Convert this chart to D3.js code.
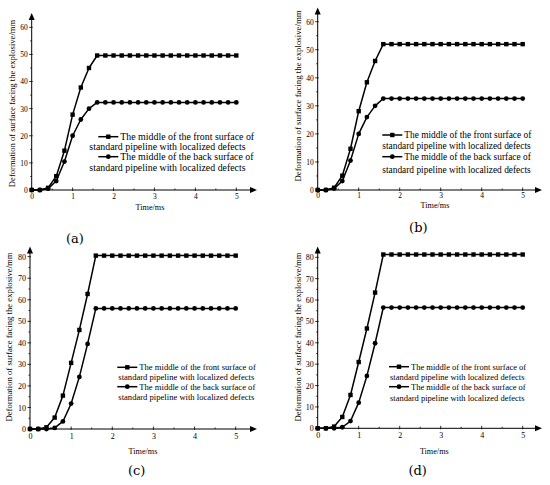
<!DOCTYPE html>
<html>
<head>
  <meta charset="utf-8">
  <script src="https://d3js.org/d3.v7.min.js"></script>
  <style>
    body { margin: 0; background: #fff; }
    text { fill: #000; }
  </style>
</head>
<body>
<script>
  // time points (ms)
  var time = [0, 0.2, 0.4, 0.6, 0.8, 1.0, 1.2, 1.4, 1.6, 1.8, 2.0, 2.2, 2.4,
              2.6, 2.8, 3.0, 3.2, 3.4, 3.6, 3.8, 4.0, 4.2, 4.4, 4.6, 4.8, 5.0];

  // deformation (mm)
  var frontA = [0, 0, 0.8, 5.1, 14.5, 27.8, 37.8, 45.0, 49.6, 49.6, 49.6, 49.6, 49.6,
                49.6, 49.6, 49.6, 49.6, 49.6, 49.6, 49.6, 49.6, 49.6, 49.6, 49.6, 49.6, 49.6];
  var backA  = [0, 0, 0.5, 3.3, 10.5, 20.0, 26.0, 30.0, 32.3, 32.3, 32.3, 32.3, 32.3,
                32.3, 32.3, 32.3, 32.3, 32.3, 32.3, 32.3, 32.3, 32.3, 32.3, 32.3, 32.3, 32.3];
  var frontB = [0, 0, 0.8, 5.1, 14.7, 28.1, 38.4, 46.0, 52.0, 52.0, 52.0, 52.0, 52.0,
                52.0, 52.0, 52.0, 52.0, 52.0, 52.0, 52.0, 52.0, 52.0, 52.0, 52.0, 52.0, 52.0];
  var backB  = [0, 0, 0.5, 3.2, 10.5, 20.0, 26.0, 30.0, 32.6, 32.6, 32.6, 32.6, 32.6,
                32.6, 32.6, 32.6, 32.6, 32.6, 32.6, 32.6, 32.6, 32.6, 32.6, 32.6, 32.6, 32.6];
  var frontC = [0, 0, 0.8, 5.3, 15.5, 30.7, 46.0, 62.7, 80.5, 80.5, 80.5, 80.5, 80.5,
                80.5, 80.5, 80.5, 80.5, 80.5, 80.5, 80.5, 80.5, 80.5, 80.5, 80.5, 80.5, 80.5];
  var backC  = [0, 0, 0, 0.5, 3.5, 11.8, 24.2, 39.5, 56.0, 56.0, 56.0, 56.0, 56.0,
                56.0, 56.0, 56.0, 56.0, 56.0, 56.0, 56.0, 56.0, 56.0, 56.0, 56.0, 56.0, 56.0];
  var frontD = [0, 0, 0.8, 5.3, 15.6, 31.0, 46.7, 63.5, 81.3, 81.3, 81.3, 81.3, 81.3,
                81.3, 81.3, 81.3, 81.3, 81.3, 81.3, 81.3, 81.3, 81.3, 81.3, 81.3, 81.3, 81.3];
  var backD  = [0, 0, 0, 0.5, 3.4, 12.0, 24.5, 39.8, 56.5, 56.5, 56.5, 56.5, 56.5,
                56.5, 56.5, 56.5, 56.5, 56.5, 56.5, 56.5, 56.5, 56.5, 56.5, 56.5, 56.5, 56.5];

  // tick labels
  var xTicks = [0, 1, 2, 3, 4, 5];
  var yTicks60 = [0, 10, 20, 30, 40, 50, 60];
  var yTicks80 = [0, 10, 20, 30, 40, 50, 60, 70, 80];

  var legendText = [
    ["The middle of the front surface of", "standard pipeline with localized defects"],
    ["The middle of the back surface of", "standard pipeline with localized defects"]
  ];
  var yTitle = "Deformation of surface facing the explosive/mm";
  var xTitle = "Time/ms";

  // one entry per sub-figure; the numbers after the data are layout only
  var panels = [
    { tag: "(a)", front: frontA, back: backA, yTicks: yTicks60, yRef: 60,
      px0: 31.7, px5: 236.3, pxEnd: 257, py0: 190, pyRef: 27.3, pyTip: 13,
      tickFs: 7.5, tickPad: 4, yTitleX: 12, yTitleY: 103.5, titleFs: 8.6, xTitleX: 150, xTitleY: 210,
      tagX: 75, tagY: 243,
      legX: 98.3, legY: [136.7, 146.7, 156.7, 168], leg2X: 89.3, legFs: 9.9 },
    { tag: "(b)", front: frontB, back: backB, yTicks: yTicks60, yRef: 60,
      px0: 317.7, px5: 522.7, pxEnd: 542, py0: 190, pyRef: 21.7, pyTip: 7.5,
      tickFs: 7.5, tickPad: 2.5, yTitleX: 298.3, yTitleY: 96, titleFs: 8.8, xTitleX: 435, xTitleY: 207.5,
      tagX: 418.3, tagY: 232,
      legX: 382.3, legY: [135, 146, 156.7, 169.3], leg2X: 382.3, legFs: 9.4 },
    { tag: "(c)", front: frontC, back: backC, yTicks: yTicks80, yRef: 80,
      px0: 30, px5: 235.7, pxEnd: 257, py0: 429, pyRef: 256.7, pyTip: 246.5,
      tickFs: 8, tickPad: 4, yTitleX: 9.3, yTitleY: 337, titleFs: 8.7, xTitleX: 143, xTitleY: 454,
      tagX: 136.7, tagY: 475,
      legX: 117.3, legY: [367.3, 377.3, 386.7, 397.3], leg2X: 118.3, legFs: 8.6 },
    { tag: "(d)", front: frontD, back: backD, yTicks: yTicks80, yRef: 80,
      px0: 317.7, px5: 522.7, pxEnd: 542, py0: 428.3, pyRef: 257.3, pyTip: 246.5,
      tickFs: 8, tickPad: 4, yTitleX: 297.7, yTitleY: 337, titleFs: 8.7, xTitleX: 434.3, xTitleY: 454,
      tagX: 417.7, tagY: 475,
      legX: 389, legY: [366.7, 376.7, 386.7, 398.3], leg2X: 390, legFs: 8.5 }
  ];

  var serif = "'Liberation Serif', 'Times New Roman', serif";

  var svg = d3.select("body").append("svg")
      .attr("width", 550)
      .attr("height", 485);

  // square / circle markers
  function drawMarker(g, kind, cx, cy) {
    if (kind === "square") {
      g.append("rect")
        .attr("x", cx - 2.2).attr("y", cy - 2.2)
        .attr("width", 4.4).attr("height", 4.4)
        .attr("fill", "#000");
    } else {
      g.append("circle")
        .attr("cx", cx).attr("cy", cy).attr("r", 2.4)
        .attr("fill", "#000");
    }
  }

  panels.forEach(function (p) {
    var g = svg.append("g");

    var x = d3.scaleLinear().domain([0, 5]).range([p.px0, p.px5]);
    var y = d3.scaleLinear().domain([0, p.yRef]).range([p.py0, p.pyRef]);
    var xMax = x.invert(p.pxEnd);
    var yMax = y.invert(p.pyTip);

    // minor tick positions
    var xMinor = d3.range(0.5, 5.3, 0.5).filter(function (v) { return v % 1 !== 0; });
    var yMinor = d3.range(5, yMax - 2, 10);

    var xAxis = g.append("g")
      .attr("transform", "translate(0," + p.py0 + ")")
      .call(d3.axisBottom(x).tickValues(xTicks).tickSize(0).tickPadding(p.tickPad)
        .tickFormat(d3.format("d")));
    xAxis.select(".domain").remove();
    xAxis.selectAll("text")
      .style("font-family", serif).style("font-size", p.tickFs + "px");

    var yAxis = g.append("g")
      .attr("transform", "translate(" + p.px0 + ",0)")
      .call(d3.axisLeft(y).tickValues(p.yTicks).tickSize(0).tickPadding(4)
        .tickFormat(d3.format("d")));
    yAxis.select(".domain").remove();
    yAxis.selectAll("text")
      .style("font-family", serif).style("font-size", p.tickFs + "px");

    // tick marks
    xTicks.forEach(function (v) {
      if (v === 0) return;
      g.append("line").attr("x1", x(v)).attr("x2", x(v))
        .attr("y1", p.py0 - 2.5).attr("y2", p.py0 + 1)
        .attr("stroke", "#000").attr("stroke-width", 0.8);
    });
    xMinor.forEach(function (v) {
      g.append("line").attr("x1", x(v)).attr("x2", x(v))
        .attr("y1", p.py0 - 1.5).attr("y2", p.py0)
        .attr("stroke", "#000").attr("stroke-width", 0.8);
    });
    p.yTicks.forEach(function (v) {
      if (v === 0) return;
      g.append("line").attr("x1", p.px0 - 2.5).attr("x2", p.px0 + 1)
        .attr("y1", y(v)).attr("y2", y(v))
        .attr("stroke", "#000").attr("stroke-width", 0.8);
    });
    yMinor.forEach(function (v) {
      g.append("line").attr("x1", p.px0 - 1.5).attr("x2", p.px0)
        .attr("y1", y(v)).attr("y2", y(v))
        .attr("stroke", "#000").attr("stroke-width", 0.8);
    });

    // axis lines with arrow heads
    g.append("line")
      .attr("x1", x(0)).attr("x2", x(xMax) - 4)
      .attr("y1", y(0)).attr("y2", y(0))
      .attr("stroke", "#000").attr("stroke-width", 1);
    g.append("line")
      .attr("x1", x(0)).attr("x2", x(0))
      .attr("y1", y(0)).attr("y2", y(yMax) + 4)
      .attr("stroke", "#000").attr("stroke-width", 1);
    g.append("path")
      .attr("d", "M" + x(xMax) + "," + y(0) + "l-7,-3l0,6z")
      .attr("fill", "#000");
    g.append("path")
      .attr("d", "M" + x(0) + "," + y(yMax) + "l-3,7l6,0z")
      .attr("fill", "#000");

    // series
    var line = d3.line()
      .x(function (d) { return x(d[0]); })
      .y(function (d) { return y(d[1]); });

    [[p.front, "square"], [p.back, "circle"]].forEach(function (s) {
      var pts = time.map(function (t, i) { return [t, s[0][i]]; });
      g.append("path")
        .attr("d", line(pts))
        .attr("fill", "none")
        .attr("stroke", "#000")
        .attr("stroke-width", 1.5)
        .attr("stroke-linejoin", "round");
      pts.forEach(function (d) { drawMarker(g, s[1], x(d[0]), y(d[1])); });
    });

    // axis titles
    g.append("text")
      .attr("transform", "translate(" + p.yTitleX + "," + p.yTitleY + ") rotate(-90)")
      .attr("text-anchor", "middle")
      .attr("dy", "0.35em")
      .style("font-family", serif).style("font-size", p.titleFs + "px")
      .text(yTitle);
    g.append("text")
      .attr("x", p.xTitleX).attr("y", p.xTitleY)
      .attr("text-anchor", "middle")
      .style("font-family", serif).style("font-size", "8.2px")
      .text(xTitle);

    // legend
    ["square", "circle"].forEach(function (kind, k) {
      var ly = p.legY[k * 2];
      g.append("line")
        .attr("x1", p.legX).attr("x2", p.legX + 20)
        .attr("y1", ly).attr("y2", ly)
        .attr("stroke", "#000").attr("stroke-width", 1.5);
      drawMarker(g, kind, p.legX + 10, ly);
      g.append("text")
        .attr("x", p.legX + 22).attr("y", ly).attr("dy", "0.35em")
        .style("font-family", serif).style("font-size", p.legFs + "px")
        .text(legendText[k][0]);
      g.append("text")
        .attr("x", p.leg2X).attr("y", p.legY[k * 2 + 1]).attr("dy", "0.35em")
        .style("font-family", serif).style("font-size", p.legFs + "px")
        .text(legendText[k][1]);
    });

    // sub-figure tag
    g.append("text")
      .attr("x", p.tagX).attr("y", p.tagY)
      .attr("text-anchor", "middle")
      .style("font-family", "'DejaVu Serif', serif").style("font-size", "13px")
      .text(p.tag);
  });
</script>
</body>
</html>
